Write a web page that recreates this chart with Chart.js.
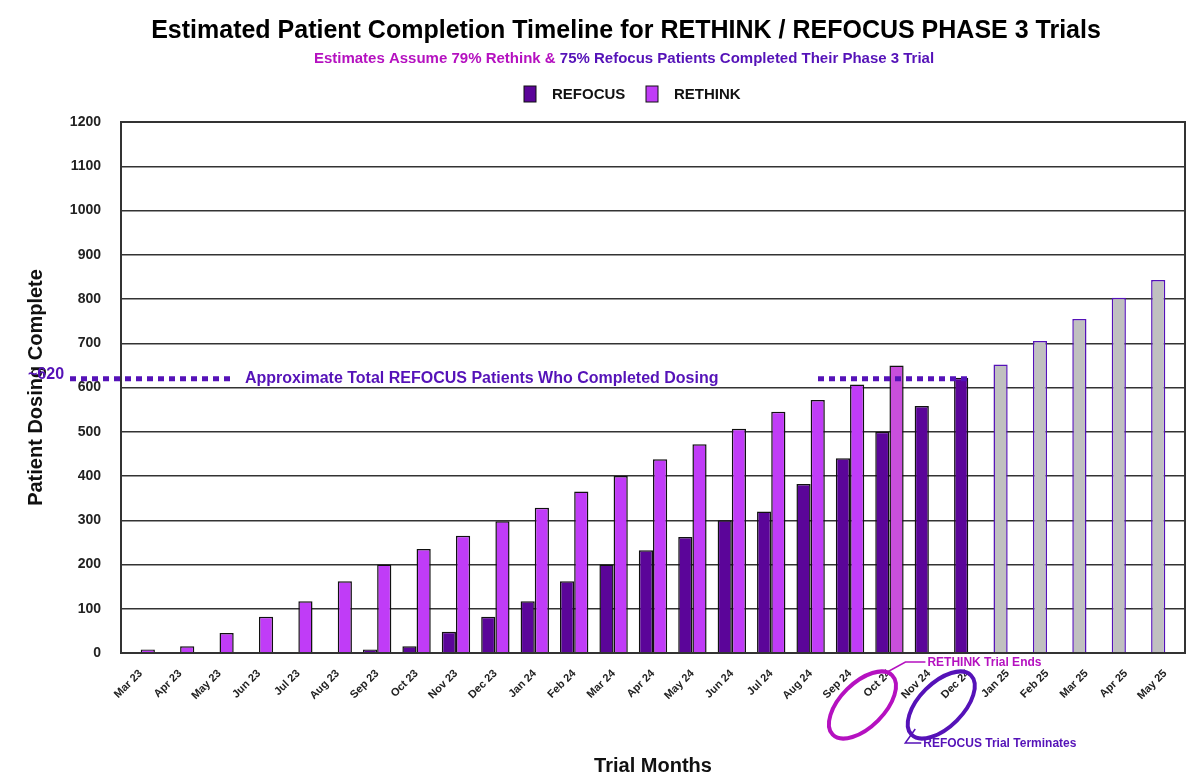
<!DOCTYPE html>
<html>
<head>
<meta charset="utf-8">
<script src="https://cdn.jsdelivr.net/npm/chart.js@4.4.1/dist/chart.umd.min.js"></script>
<style>
  html, body { margin: 0; padding: 0; background: #fff; }
  #wrap { width: 1200px; height: 782px; position: relative; }
</style>
</head>
<body>
<div id="wrap"><canvas id="chart"></canvas></div>
<script>
// ---- data ----
const months = ['Mar 23','Apr 23','May 23','Jun 23','Jul 23','Aug 23','Sep 23','Oct 23','Nov 23','Dec 23',
  'Jan 24','Feb 24','Mar 24','Apr 24','May 24','Jun 24','Jul 24','Aug 24','Sep 24','Oct 24','Nov 24','Dec 24',
  'Jan 25','Feb 25','Mar 25','Apr 25','May 25'];
const refocus = [null,null,null,null,null,null,8,15,48,82,117,162,200,232,262,300,320,382,440,500,558,622,
  652,705,755,803,843];
const rethink = [8,15,45,82,117,162,200,235,265,298,328,365,400,438,472,507,545,572,607,650,null,null,
  null,null,null,null,null];
const yTicks = [0,100,200,300,400,500,600,700,800,900,1000,1100,1200];
const refocusTotal = 620;

const C_REFOCUS = '#5b0599';
const C_RETHINK = '#c03cf7';
const C_RETHINK_END = '#c94fdc';
const C_PROJ = '#c0c0c0';
const C_MAGENTA = '#b511c0';
const C_PURPLE = '#5512b8';

// projected months (after Dec 24) are grey
const refocusColors = months.map((m, i) => i > 21 ? C_PROJ : C_REFOCUS);
const refocusBorders = months.map((m, i) => i > 21 ? C_PURPLE : '#111');
const rethinkColors = months.map((m, i) => i === 19 ? C_RETHINK_END : C_RETHINK);

const decor = {
  id: 'decor',
  afterDatasetsDraw(chart) {
    const { ctx, chartArea: a, scales: { x, y } } = chart;
    ctx.save();
    // frame
    ctx.strokeStyle = '#333'; ctx.lineWidth = 2;
    ctx.strokeRect(a.left, a.top, a.right - a.left, a.bottom - a.top);

    // titles
    ctx.textAlign = 'center'; ctx.textBaseline = 'middle';
    ctx.fillStyle = '#000';
    ctx.font = 'bold 25px "Liberation Sans", Arial';
    ctx.fillText('Estimated Patient Completion Timeline for RETHINK / REFOCUS PHASE 3 Trials', 626, 31);
    ctx.font = 'bold 15px "Liberation Sans", Arial';
    const s1 = 'Estimates Assume 79% Rethink & ';
    const s2 = '75% Refocus Patients Completed Their Phase 3 Trial';
    const w1 = ctx.measureText(s1).width, w2 = ctx.measureText(s2).width;
    let sx = 624 - (w1 + w2) / 2;
    ctx.textAlign = 'left';
    ctx.fillStyle = C_MAGENTA; ctx.fillText(s1, sx, 59);
    ctx.fillStyle = C_PURPLE; ctx.fillText(s2, sx + w1, 59);

    // legend
    ctx.font = 'bold 15px "Liberation Sans", Arial';
    ctx.fillStyle = C_REFOCUS; ctx.fillRect(524, 86, 12, 16);
    ctx.strokeStyle = '#111'; ctx.lineWidth = 1; ctx.strokeRect(524, 86, 12, 16);
    ctx.fillStyle = '#111'; ctx.fillText('REFOCUS', 552, 95);
    ctx.fillStyle = C_RETHINK; ctx.fillRect(646, 86, 12, 16); ctx.strokeRect(646, 86, 12, 16);
    ctx.fillStyle = '#111'; ctx.fillText('RETHINK', 674, 95);

    // ~620 dotted line
    const yy = y.getPixelForValue(refocusTotal);
    const xEnd = x.getPixelForValue(21) + 2;
    ctx.strokeStyle = C_PURPLE; ctx.lineWidth = 5; ctx.setLineDash([6, 5]);
    ctx.beginPath(); ctx.moveTo(70, yy); ctx.lineTo(232, yy); ctx.stroke();
    ctx.beginPath(); ctx.moveTo(818, yy); ctx.lineTo(xEnd, yy); ctx.stroke();
    ctx.setLineDash([]);
    ctx.fillStyle = C_PURPLE; ctx.font = 'bold 16px "Liberation Sans", Arial';
    ctx.fillText('~620', 28, yy - 4);
    ctx.fillText('Approximate Total REFOCUS Patients Who Completed Dosing', 245, yy);

    // ellipses on Oct 24 / Dec 24 labels
    const ell = (i, col) => {
      const cx = x.getPixelForValue(i) - 27, cy = a.bottom + 52;
      ctx.strokeStyle = col; ctx.lineWidth = 4;
      ctx.beginPath(); ctx.ellipse(cx, cy, 42, 22, -Math.PI / 4, 0, Math.PI * 2); ctx.stroke();
      return cx;
    };
    const c1 = ell(19, C_MAGENTA), c2 = ell(21, C_PURPLE);
    ctx.lineWidth = 1.5; ctx.font = 'bold 12px "Liberation Sans", Arial';
    ctx.strokeStyle = C_MAGENTA; ctx.fillStyle = C_MAGENTA;
    ctx.beginPath(); ctx.moveTo(c1 + 23, a.bottom + 20); ctx.lineTo(c1 + 43, a.bottom + 9); ctx.lineTo(c1 + 63, a.bottom + 9); ctx.stroke();
    ctx.fillText('RETHINK Trial Ends', c1 + 65, a.bottom + 10);
    ctx.strokeStyle = C_PURPLE; ctx.fillStyle = C_PURPLE;
    ctx.beginPath(); ctx.moveTo(c2 - 26, a.bottom + 76); ctx.lineTo(c2 - 36, a.bottom + 90); ctx.lineTo(c2 - 20, a.bottom + 90); ctx.stroke();
    ctx.fillText('REFOCUS Trial Terminates', c2 - 18, a.bottom + 91);
    ctx.restore();
  }
};

new Chart(document.getElementById('chart'), {
  type: 'bar',
  data: {
    labels: months,
    datasets: [
      { label: 'REFOCUS', data: refocus, backgroundColor: refocusColors, borderColor: refocusBorders, borderWidth: 1.5 },
      { label: 'RETHINK', data: rethink, backgroundColor: rethinkColors, borderColor: '#111', borderWidth: 1.5 }
    ]
  },
  options: {
    responsive: true, maintainAspectRatio: false, animation: false,
    categoryPercentage: 0.72, barPercentage: 1,
    layout: { padding: { top: 122, right: 15, bottom: 4, left: 24 } },
    plugins: { legend: { display: false }, tooltip: { enabled: false } },
    scales: {
      x: {
        grid: { display: false },
        border: { color: '#333', width: 2 },
        ticks: { color: '#222', maxRotation: 45, minRotation: 45, padding: 6,
          font: { family: '"Liberation Sans", Arial', weight: 'bold', size: 11 } },
        title: { display: true, text: 'Trial Months', color: '#111', padding: { top: 0, bottom: 0 },
          font: { family: '"Liberation Sans", Arial', weight: 'bold', size: 20 } },
        afterFit: s => { s.height = 125; }
      },
      y: {
        min: 0, max: 1200,
        afterBuildTicks: s => { s.ticks = yTicks.map(v => ({ value: v })); },
        grid: { color: '#333', lineWidth: 1.5, drawTicks: false },
        border: { color: '#333', width: 2 },
        ticks: { color: '#222', padding: 20, callback: v => String(v),
          font: { family: '"Liberation Sans", Arial', weight: 'bold', size: 14 } },
        title: { display: true, text: 'Patient Dosing Complete', color: '#111', padding: { top: 0, bottom: 6 },
          font: { family: '"Liberation Sans", Arial', weight: 'bold', size: 20 } },
        afterFit: s => { s.width = 97; }
      }
    }
  },
  plugins: [decor]
});
</script>
</body>
</html>
